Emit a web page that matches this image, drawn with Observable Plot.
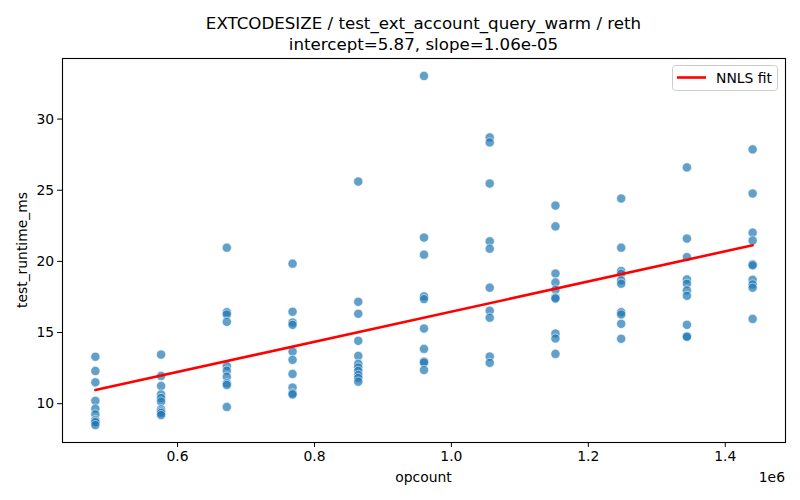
<!DOCTYPE html>
<html>
<head>
<meta charset="utf-8">
<script src="https://cdn.jsdelivr.net/npm/d3@7"></script>
<script src="https://cdn.jsdelivr.net/npm/@observablehq/plot@0.6"></script>
<style>
  html, body { margin: 0; padding: 0; background: #fff; }
  #chart { width: 800px; height: 500px; }
  svg text { font-family: "DejaVu Sans", sans-serif; }
</style>
</head>
<body>
<div id="chart"></div>
<script>
const titleLine1 = "EXTCODESIZE / test_ext_account_query_warm / reth";
const titleLine2 = "intercept=5.87, slope=1.06e-05";
const xLabel = "opcount";
const yLabel = "test_runtime_ms";
const legendLabel = "NNLS fit";

const intercept = 5.87;
const slope = 1.06e-05;

const opcounts = [480000, 576000, 672000, 768000, 864000, 960000, 1056000, 1152000, 1248000, 1344000, 1440000];

const runtimes = [
  [13.3, 12.3, 11.5, 10.2, 9.65, 9.25, 8.85, 8.75, 8.7, 8.5],
  [13.45, 11.95, 11.25, 10.65, 10.4, 10.15, 9.6, 9.45, 9.35, 9.2],
  [20.96, 16.43, 16.27, 15.75, 12.65, 12.32, 11.9, 11.43, 11.32, 9.77],
  [19.84, 16.46, 15.7, 15.54, 13.66, 13.08, 12.09, 11.13, 10.73, 10.65],
  [25.61, 17.16, 16.32, 14.42, 13.36, 12.8, 12.54, 12.3, 12.02, 11.81, 11.55],
  [33.03, 21.67, 20.47, 17.54, 17.35, 15.28, 13.85, 12.96, 12.89, 12.37],
  [28.71, 28.36, 25.47, 21.41, 20.89, 18.15, 16.53, 16.04, 13.31, 12.87],
  [23.92, 22.46, 19.15, 18.52, 18.01, 17.46, 17.39, 14.93, 14.58, 13.5],
  [24.42, 20.96, 19.32, 19.13, 18.66, 18.43, 16.43, 16.27, 15.61, 14.56],
  [26.6, 21.6, 20.3, 18.73, 18.43, 17.96, 17.58, 15.54, 14.74, 14.7],
  [27.87, 24.77, 22.02, 21.46, 19.79, 19.72, 18.71, 18.38, 18.15, 15.96]
];

const xTicks = [600000, 800000, 1000000, 1200000, 1400000];
const yTicks = [10, 15, 20, 25, 30];

const points = opcounts.flatMap((x, i) => runtimes[i].map(y => ({x, y})));
const xMin = d3.min(opcounts), xMax = d3.max(opcounts);
const fit = [xMin, xMax].map(x => ({x, y: intercept + slope * x}));

const yMin = d3.min(points, d => d.y), yMax = d3.max(points, d => d.y);
const xPad = (xMax - xMin) * 0.05, yPad = (yMax - yMin) * 0.05;

const W = 800, H = 500;
const mL = 62, mR = 15, mT = 58, mB = 58;

const chart = Plot.plot({
  width: W,
  height: H,
  marginLeft: mL,
  marginRight: mR,
  marginTop: mT,
  marginBottom: mB,
  style: {fontFamily: "DejaVu Sans, sans-serif", fontSize: "13.9px", color: "black", background: "white"},
  x: {domain: [xMin - xPad, xMax + xPad]},
  y: {domain: [yMin - yPad, yMax + yPad]},
  marks: [
    Plot.dot(points, {x: "x", y: "y", r: 4.6, fill: "#1f77b4", fillOpacity: 0.7, stroke: "white", strokeWidth: 0.7, strokeOpacity: 0.8}),
    Plot.line(fit, {x: "x", y: "y", stroke: "red", strokeWidth: 2.6}),
    Plot.axisX({ticks: xTicks, tickFormat: d => (d / 1e6).toFixed(1), tickSize: 4.9, tickPadding: 3.5, label: null, fontSize: 13.9}),
    Plot.axisY({ticks: yTicks, tickFormat: d => String(d), tickSize: 4.9, tickPadding: 3.5, label: null, fontSize: 13.9}),
    Plot.frame({stroke: "black", strokeWidth: 1.1})
  ]
});

document.getElementById("chart").appendChild(chart);

const svg = d3.select(chart);
const cx = mL + (W - mL - mR) / 2;

svg.append("text").attr("x", cx).attr("y", 28.5).attr("text-anchor", "middle")
  .style("font-size", "16.67px").attr("fill", "black").text(titleLine1);
svg.append("text").attr("x", cx).attr("y", 50).attr("text-anchor", "middle")
  .style("font-size", "16.67px").attr("fill", "black").text(titleLine2);

svg.append("text").attr("x", cx).attr("y", 482).attr("text-anchor", "middle")
  .style("font-size", "13.9px").attr("fill", "black").text(xLabel);
svg.append("text").attr("x", W - mR).attr("y", 482).attr("text-anchor", "end")
  .style("font-size", "13.9px").attr("fill", "black").text("1e6");
svg.append("text").attr("transform", `translate(27,${mT + (H - mT - mB) / 2}) rotate(-90)`)
  .attr("text-anchor", "middle")
  .style("font-size", "13.9px").attr("fill", "black").text(yLabel);

// legend
const lg = svg.append("g");
lg.append("rect").attr("x", 672.5).attr("y", 65.5).attr("width", 105).attr("height", 25)
  .attr("rx", 3).attr("fill", "white").attr("fill-opacity", 0.8).attr("stroke", "#cccccc").attr("stroke-width", 1);
lg.append("line").attr("x1", 677).attr("x2", 706).attr("y1", 77.5).attr("y2", 77.5)
  .attr("stroke", "red").attr("stroke-width", 2.6);
lg.append("text").attr("x", 716).attr("y", 82.5).attr("text-anchor", "start")
  .style("font-size", "13.9px").attr("fill", "black").text(legendLabel);
</script>
</body>
</html>
